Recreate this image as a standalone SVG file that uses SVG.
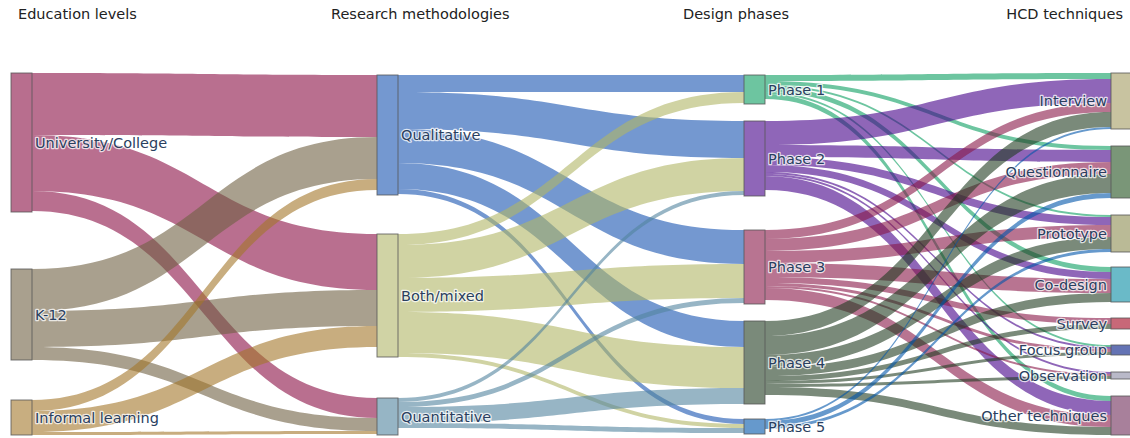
<svg xmlns="http://www.w3.org/2000/svg" width="1130" height="438" viewBox="0 0 1130 438">
<style>
text{font-family:"DejaVu Sans","Liberation Sans",sans-serif;font-size:14.5px}
.title{fill:#222}
.lbl{fill:#2a3f5f;stroke:#fff;stroke-width:2.5;stroke-opacity:.75;stroke-linejoin:round;paint-order:stroke}
.end{text-anchor:end}
.node rect{stroke:#555;stroke-width:1;stroke-opacity:.8}
#links path{fill-opacity:.6}
.lu{fill:rgb(138,15,68)}.lk{fill:rgb(112,97,67)}.li{fill:rgb(163,118,42)}
.lq{fill:rgb(23,83,177)}.lb{fill:rgb(177,182,102)}.ln{fill:rgb(82,132,158)}
.p1{fill:rgb(12,158,97)}.p2{fill:rgb(68,0,137)}.p3{fill:rgb(137,23,72)}.p4{fill:rgb(33,60,33)}.p5{fill:rgb(0,85,170)}
</style>
<rect width="1130" height="438" fill="#fff"/>
<g id="titles">
<text class="title" x="18" y="19">Education levels</text>
<text class="title" x="331" y="19">Research methodologies</text>
<text class="title" x="683" y="19">Design phases</text>
<text class="title end" x="1123" y="19">HCD techniques</text>
</g>
<g id="links">
<path class="lu" d="M32 73C204.5 73 204.5 75 377 75L377 137C204.5 137 204.5 135 32 135Z"/>
<path class="lu" d="M32 135C204.5 135 204.5 234 377 234L377 290C204.5 290 204.5 191 32 191Z"/>
<path class="lu" d="M32 191C204.5 191 204.5 398 377 398L377 418C204.5 418 204.5 211 32 211Z"/>
<path class="lk" d="M32 269C204.5 269 204.5 137 377 137L377 179C204.5 179 204.5 311 32 311Z"/>
<path class="lk" d="M32 311C204.5 311 204.5 290 377 290L377 326C204.5 326 204.5 347 32 347Z"/>
<path class="lk" d="M32 347C204.5 347 204.5 418 377 418L377 431C204.5 431 204.5 360 32 360Z"/>
<path class="li" d="M32 400C204.5 400 204.5 179 377 179L377 190C204.5 190 204.5 411 32 411Z"/>
<path class="li" d="M32 411C204.5 411 204.5 326 377 326L377 347C204.5 347 204.5 432 32 432Z"/>
<path class="li" d="M32 432C204.5 432 204.5 431 377 431L377 434C204.5 434 204.5 435 32 435Z"/>
<path class="lq" d="M398 75C571 75 571 75 744 75L744 92C571 92 571 92 398 92Z"/>
<path class="lq" d="M398 92C571 92 571 121 744 121L744 158C571 158 571 129 398 129Z"/>
<path class="lq" d="M398 129C571 129 571 230 744 230L744 264C571 264 571 163 398 163Z"/>
<path class="lq" d="M398 163C571 163 571 321 744 321L744 347C571 347 571 189 398 189Z"/>
<path class="lq" d="M398 189C571 189 571 419 744 419L744 424C571 424 571 194 398 194Z"/>
<path class="lb" d="M398 234C571 234 571 92 744 92L744 103C571 103 571 245 398 245Z"/>
<path class="lb" d="M398 245C571 245 571 158 744 158L744 191C571 191 571 278 398 278Z"/>
<path class="lb" d="M398 278C571 278 571 264 744 264L744 298C571 298 571 312 398 312Z"/>
<path class="lb" d="M398 312C571 312 571 347 744 347L744 388C571 388 571 353 398 353Z"/>
<path class="lb" d="M398 353C571 353 571 424 744 424L744 428C571 428 571 357 398 357Z"/>
<path class="ln" d="M398 398C571 398 571 191 744 191L744 195C571 195 571 402 398 402Z"/>
<path class="ln" d="M398 402C571 402 571 298 744 298L744 303C571 303 571 407 398 407Z"/>
<path class="ln" d="M398 407C571 407 571 388 744 388L744 404C571 404 571 423 398 423Z"/>
<path class="ln" d="M398 423C571 423 571 428 744 428L744 433C571 433 571 428 398 428Z"/>
<path class="p1" d="M765 75C938 75 938 73 1111 73L1111 79C938 79 938 81 765 81Z"/>
<path class="p1" d="M765 81C938 81 938 146 1111 146L1111 150C938 150 938 85 765 85Z"/>
<path class="p1" d="M765 85C938 85 938 215 1111 215L1111 217C938 217 938 87 765 87Z"/>
<path class="p1" d="M765 87C938 87 938 267 1111 267L1111 272C938 272 938 92 765 92Z"/>
<path class="p1" d="M765 92C938 92 938 345 1111 345L1111 347C938 347 938 94 765 94Z"/>
<path class="p1" d="M765 94C938 94 938 396 1111 396L1111 401C938 401 938 99 765 99Z"/>
<path class="p2" d="M765 121C938 121 938 79 1111 79L1111 103C938 103 938 145 765 145Z"/>
<path class="p2" d="M765 145C938 145 938 150 1111 150L1111 162C938 162 938 157 765 157Z"/>
<path class="p2" d="M765 157C938 157 938 217 1111 217L1111 225C938 225 938 165 765 165Z"/>
<path class="p2" d="M765 165C938 165 938 272 1111 272L1111 279C938 279 938 172 765 172Z"/>
<path class="p2" d="M765 172C938 172 938 347 1111 347L1111 349C938 349 938 174 765 174Z"/>
<path class="p2" d="M765 174C938 174 938 372 1111 372L1111 374C938 374 938 176 765 176Z"/>
<path class="p2" d="M765 176C938 176 938 401 1111 401L1111 415C938 415 938 190 765 190Z"/>
<path class="p3" d="M765 230C938 230 938 103 1111 103L1111 112C938 112 938 239 765 239Z"/>
<path class="p3" d="M765 239C938 239 938 162 1111 162L1111 174C938 174 938 251 765 251Z"/>
<path class="p3" d="M765 251C938 251 938 225 1111 225L1111 237C938 237 938 263 765 263Z"/>
<path class="p3" d="M765 263C938 263 938 279 1111 279L1111 293C938 293 938 277 765 277Z"/>
<path class="p3" d="M765 277C938 277 938 318 1111 318L1111 324C938 324 938 283 765 283Z"/>
<path class="p3" d="M765 283C938 283 938 349 1111 349L1111 352C938 352 938 286 765 286Z"/>
<path class="p3" d="M765 286C938 286 938 374 1111 374L1111 376C938 376 938 288 765 288Z"/>
<path class="p3" d="M765 288C938 288 938 415 1111 415L1111 427C938 427 938 300 765 300Z"/>
<path class="p4" d="M765 321C938 321 938 112 1111 112L1111 127C938 127 938 336 765 336Z"/>
<path class="p4" d="M765 336C938 336 938 174 1111 174L1111 193C938 193 938 355 765 355Z"/>
<path class="p4" d="M765 355C938 355 938 237 1111 237L1111 249C938 249 938 367 765 367Z"/>
<path class="p4" d="M765 367C938 367 938 293 1111 293L1111 302C938 302 938 376 765 376Z"/>
<path class="p4" d="M765 376C938 376 938 324 1111 324L1111 329C938 329 938 381 765 381Z"/>
<path class="p4" d="M765 381C938 381 938 352 1111 352L1111 355C938 355 938 384 765 384Z"/>
<path class="p4" d="M765 384C938 384 938 376 1111 376L1111 379C938 379 938 387 765 387Z"/>
<path class="p4" d="M765 387C938 387 938 427 1111 427L1111 435C938 435 938 395 765 395Z"/>
<path class="p5" d="M765 419C938 419 938 127 1111 127L1111 129C938 129 938 421 765 421Z"/>
<path class="p5" d="M765 421C938 421 938 193 1111 193L1111 198C938 198 938 426 765 426Z"/>
<path class="p5" d="M765 426C938 426 938 249 1111 249L1111 252C938 252 938 429 765 429Z"/>
</g>
<g id="node-university" class="node"><rect x="11" y="73" width="21" height="139" fill="#b86e8e"/><text class="lbl" x="35" y="148">University/College</text></g>
<g id="node-k12" class="node"><rect x="11" y="269" width="21" height="91" fill="#a9a08e"/><text class="lbl" x="35" y="320">K-12</text></g>
<g id="node-informal" class="node"><rect x="11" y="400" width="21" height="35" fill="#c8ae80"/><text class="lbl" x="35" y="423">Informal learning</text></g>
<g id="node-qualitative" class="node"><rect x="377" y="75" width="21" height="120" fill="#7498d0"/><text class="lbl" x="401" y="140">Qualitative</text></g>
<g id="node-both" class="node"><rect x="377" y="234" width="21" height="123" fill="#d0d3a5"/><text class="lbl" x="401" y="301">Both/mixed</text></g>
<g id="node-quantitative" class="node"><rect x="377" y="398" width="21" height="37" fill="#96b5c5"/><text class="lbl" x="401" y="422">Quantitative</text></g>
<g id="node-phase1" class="node"><rect x="744" y="75" width="21" height="29" fill="#6dc5a0"/><text class="lbl" x="768" y="95">Phase 1</text></g>
<g id="node-phase2" class="node"><rect x="744" y="121" width="21" height="75" fill="#8f66b8"/><text class="lbl" x="768" y="164">Phase 2</text></g>
<g id="node-phase3" class="node"><rect x="744" y="230" width="21" height="74" fill="#b87491"/><text class="lbl" x="768" y="272">Phase 3</text></g>
<g id="node-phase4" class="node"><rect x="744" y="321" width="21" height="83" fill="#7a8a7a"/><text class="lbl" x="768" y="368">Phase 4</text></g>
<g id="node-phase5" class="node"><rect x="744" y="419" width="21" height="15" fill="#6699cc"/><text class="lbl" x="768" y="432">Phase 5</text></g>
<g id="node-interview" class="node"><rect x="1111" y="73" width="21" height="56" fill="#c8c3a0"/><text class="lbl end" x="1107" y="106">Interview</text></g>
<g id="node-questionnaire" class="node"><rect x="1111" y="146" width="21" height="52" fill="#7a9678"/><text class="lbl end" x="1107" y="177">Questionnaire</text></g>
<g id="node-prototype" class="node"><rect x="1111" y="215" width="21" height="37" fill="#baba96"/><text class="lbl end" x="1107" y="239">Prototype</text></g>
<g id="node-codesign" class="node"><rect x="1111" y="267" width="21" height="35" fill="#6abac8"/><text class="lbl end" x="1107" y="290">Co-design</text></g>
<g id="node-survey" class="node"><rect x="1111" y="318" width="21" height="11" fill="#c86878"/><text class="lbl end" x="1107" y="329">Survey</text></g>
<g id="node-focusgroup" class="node"><rect x="1111" y="345" width="21" height="10" fill="#6473b4"/><text class="lbl end" x="1107" y="355">Focus group</text></g>
<g id="node-observation" class="node"><rect x="1111" y="372" width="21" height="7" fill="#b9b9c8"/><text class="lbl end" x="1107" y="381">Observation</text></g>
<g id="node-other" class="node"><rect x="1111" y="396" width="21" height="39" fill="#a8809b"/><text class="lbl end" x="1107" y="421">Other techniques</text></g>
</svg>
